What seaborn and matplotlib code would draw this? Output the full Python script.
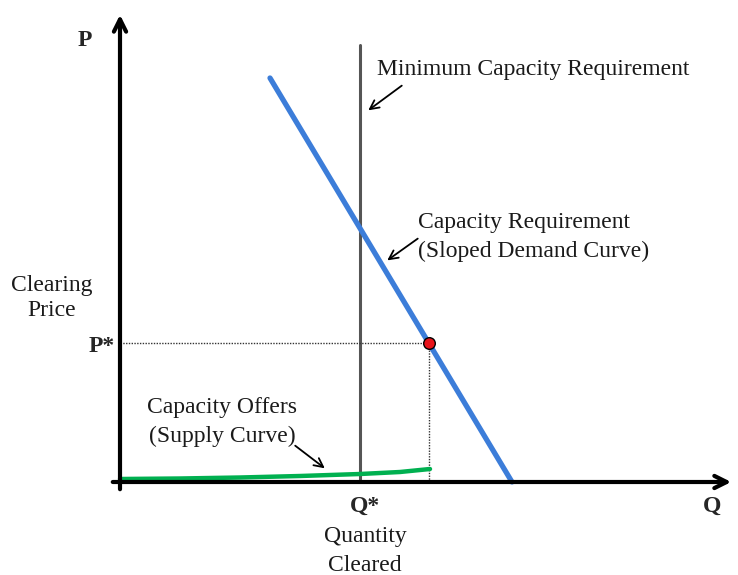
import matplotlib.pyplot as plt
import seaborn as sns

# data (arbitrary units, origin at axes crossing)
demand_q = [150, 392]
demand_p = [404, 0]
supply_q = [0, 60, 120, 180, 240, 280, 310]
supply_p = [3, 3.5, 4.5, 6, 8, 10, 13]
min_req_q = [240, 240]
min_req_p = [0, 437]
clear_q = [309]
clear_p = [139]

sns.set_theme(style="white")
plt.rcParams['font.family'] = ['Liberation Serif', 'DejaVu Serif']

fig = plt.figure(figsize=(7.38, 5.75), dpi=100)
ax = fig.add_axes([0, 0, 1, 1])
ax.set_xlim(-120, 618)
ax.set_ylim(-93, 482)
ax.axis('off')

# axes arrows
ax.annotate('', xy=(0, 470), xytext=(0, -10),
            arrowprops=dict(arrowstyle='->', lw=3, color='black', mutation_scale=22))
ax.annotate('', xy=(614, 0), xytext=(-10, 0),
            arrowprops=dict(arrowstyle='->', lw=3, color='black', mutation_scale=22))

# minimum capacity requirement
sns.lineplot(x=min_req_q, y=min_req_p, ax=ax, color='#555555', lw=2.2,
             sort=False, estimator=None)

# dotted guide lines to clearing point
ax.plot([0, clear_q[0]], [clear_p[0], clear_p[0]], color='#333333', lw=1, ls=(0, (1, 1)))
ax.plot([clear_q[0], clear_q[0]], [0, clear_p[0]], color='#333333', lw=1, ls=(0, (1, 1)))

# supply and demand
sns.lineplot(x=supply_q, y=supply_p, ax=ax, color='#00B050', lw=3.2, sort=False, estimator=None)
sns.lineplot(x=demand_q, y=demand_p, ax=ax, color='#3C7DD9', lw=3.8, sort=False, estimator=None)
sns.scatterplot(x=clear_q, y=clear_p, ax=ax, color='#E8141B', edgecolor='black',
                s=70, linewidth=1, zorder=5)

fs = 17
tc = '#1a1a1a'
# axis labels
ax.text(-35, 442, 'P', fontsize=fs, fontweight='bold', ha='center', va='center')
ax.text(-5, clear_p[0] - 3, 'P*', fontsize=fs, fontweight='bold', ha='right', va='center')
ax.text(-68, 184, 'Clearing\nPrice', fontsize=fs, ha='center', va='center', color=tc,
        linespacing=1.3)
ax.text(min_req_q[0] + 5, -24, 'Q*', fontsize=fs, fontweight='bold', ha='center', va='center')
ax.text(min_req_q[0] + 5, -69, 'Quantity\nCleared', fontsize=fs, ha='center', va='center',
        color=tc, linespacing=1.5)
ax.text(592, -24, 'Q', fontsize=fs, fontweight='bold', ha='center', va='center')

# annotations
ax.text(257, 412, 'Minimum Capacity Requirement', fontsize=fs, ha='left', va='center',
        color=tc)
ax.annotate('', xy=(246, 370), xytext=(284, 398),
            arrowprops=dict(arrowstyle='->', lw=1.3, color='black', mutation_scale=16))

ax.text(298, 245, 'Capacity Requirement\n(Sloped Demand Curve)', fontsize=fs, ha='left',
        va='center', color=tc, linespacing=1.45)
ax.annotate('', xy=(265, 220), xytext=(300, 245),
            arrowprops=dict(arrowstyle='->', lw=1.3, color='black', mutation_scale=16))

ax.text(102, 60, 'Capacity Offers\n(Supply Curve)', fontsize=fs, ha='center', va='center',
        color=tc, linespacing=1.45)
ax.annotate('', xy=(207, 12), xytext=(173, 38),
            arrowprops=dict(arrowstyle='->', lw=1.3, color='black', mutation_scale=16))

fig.savefig('out.png', dpi=100)
